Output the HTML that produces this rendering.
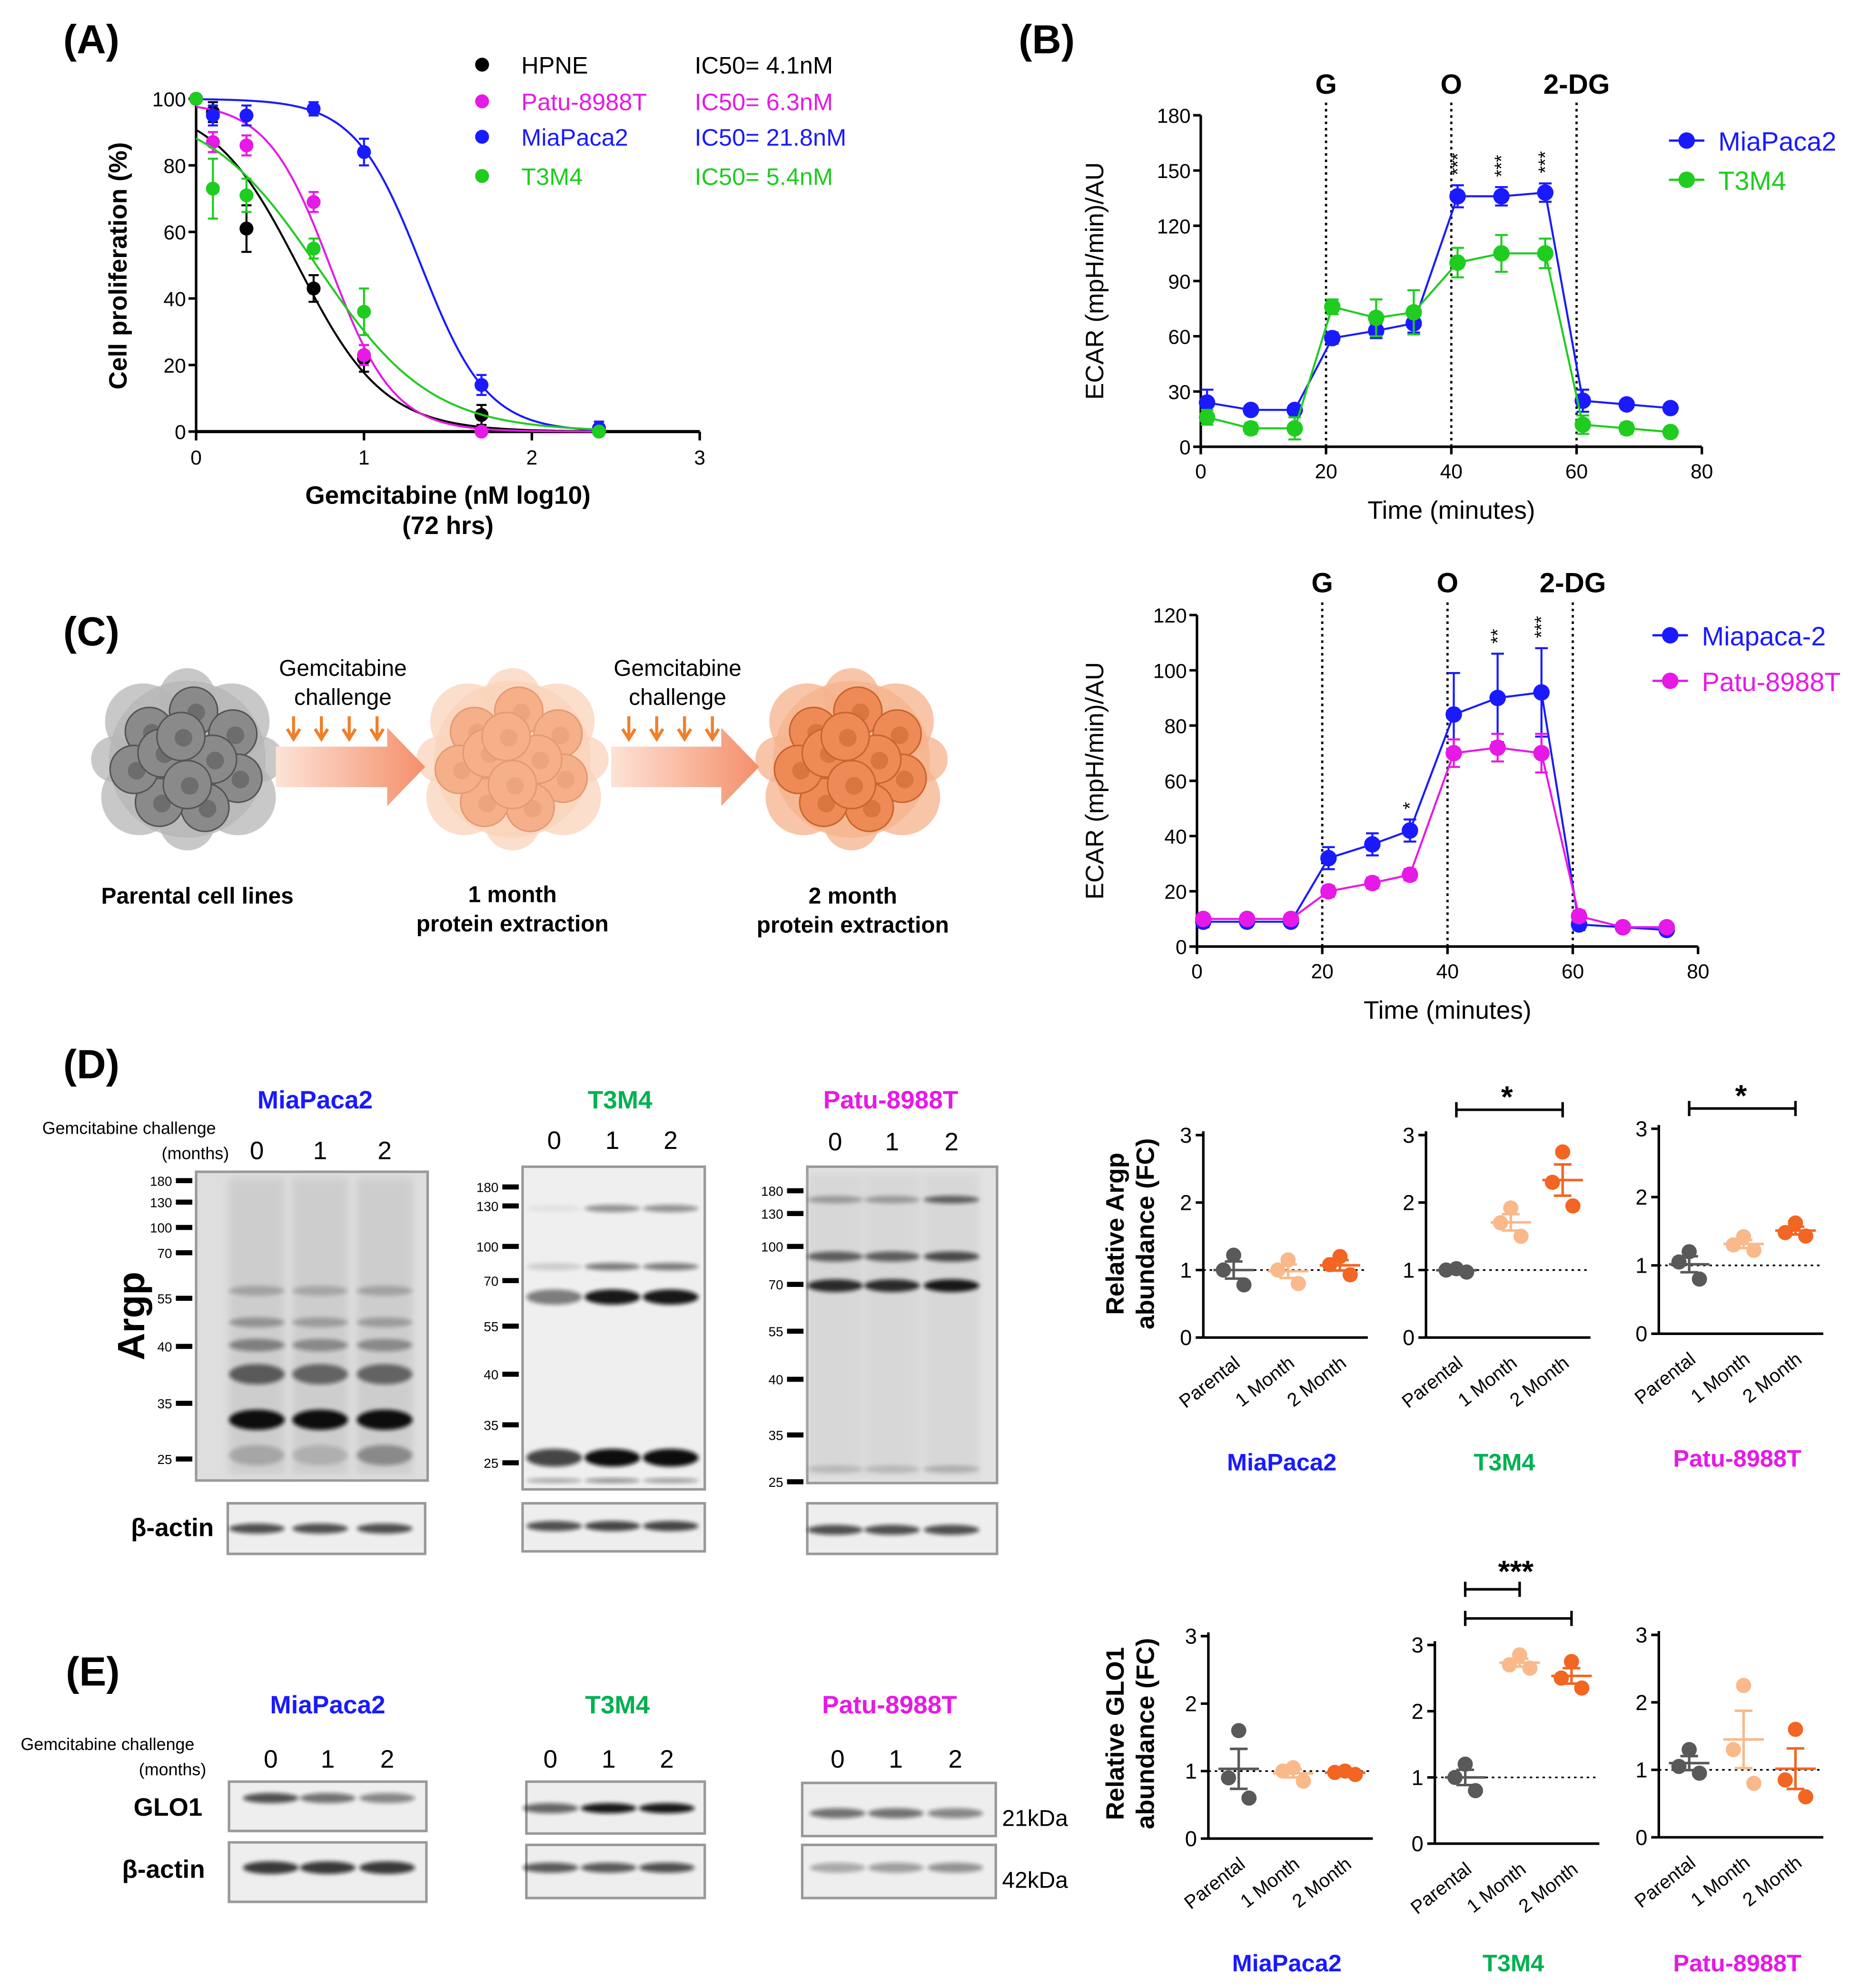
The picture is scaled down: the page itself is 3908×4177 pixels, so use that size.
<!DOCTYPE html>
<html><head><meta charset="utf-8">
<style>
html,body{margin:0;padding:0;background:#fff;}
svg{display:block;font-family:"Liberation Sans",Arial,sans-serif;}
</style></head>
<body>
<svg id="fig" width="3908" height="4177" viewBox="0 0 1470 1571" xmlns="http://www.w3.org/2000/svg">
<defs>
<filter id="blur1" x="-20%" y="-50%" width="140%" height="200%"><feGaussianBlur stdDeviation="1.6"/></filter>
<filter id="blur2" x="-20%" y="-50%" width="140%" height="200%"><feGaussianBlur stdDeviation="3"/></filter>
<linearGradient id="arrowGrad" x1="0" x2="1" y1="0" y2="0"><stop offset="0" stop-color="#fde3d6"/><stop offset="1" stop-color="#f48f6b"/></linearGradient>
</defs>
<g id="root"></g>
</svg>
<script>
// ---------------- DATA ----------------
// Panel A
const aDoses = [0, 0.1, 0.3, 0.7, 1.0, 1.7, 2.4];
const aNames = ["HPNE", "Patu-8988T", "MiaPaca2", "T3M4"];
const aIC50Text = ["IC50= 4.1nM", "IC50= 6.3nM", "IC50= 21.8nM", "IC50= 5.4nM"];
const aHPNE = [100, 96, 61, 43, 22, 5, 0];
const aPatu = [100, 87, 86, 69, 23, 0, 1];
const aMia = [100, 95, 95, 97, 84, 14, 1];
const aT3M4 = [100, 73, 71, 55, 36, null, 0];
const aErrHPNE = [1, 3, 7, 4, 4, 3, 1];
const aErrPatu = [1, 3, 3, 3, 3, 1, 2];
const aErrMia = [1, 3, 3, 2, 4, 3, 2];
const aErrT3M4 = [1, 9, 5, 3, 7, 0, 1];
const aLogIC50 = [0.61, 0.80, 1.34, 0.73];
const aTop = [99, 99, 100, 98];
const aHill = [1.7, 2.3, 2.2, 1.3];
const aXTicks = [0, 1, 2, 3];
const aYTicks = [0, 20, 40, 60, 80, 100];
// Panel B top
const bTimes = [1, 8, 15, 21, 28, 34, 41, 48, 55, 61, 68, 75];
const b1Mia = [24, 20, 20, 59, 63, 67, 136, 136, 138, 25, 23, 21];
const b1MiaErr = [7, 2, 2, 3, 4, 5, 6, 5, 5, 6, 2, 2];
const b1T3M4 = [16, 10, 10, 76, 70, 73, 100, 105, 105, 12, 10, 8];
const b1T3M4Err = [4, 3, 6, 4, 10, 12, 8, 10, 8, 5, 3, 2];
const b1YTicks = [0, 30, 60, 90, 120, 150, 180];
const b1Stars = ["***", "***", "***"];
const b1StarTimes = [41, 48, 55];
// Panel B bottom
const b2Mia = [9, 9, 9, 32, 37, 42, 84, 90, 92, 8, 7, 6];
const b2MiaErr = [2, 1, 1, 4, 4, 4, 15, 16, 16, 2, 1, 1];
const b2Patu = [10, 10, 10, 20, 23, 26, 70, 72, 70, 11, 7, 7];
const b2PatuErr = [1, 1, 1, 2, 2, 2, 5, 5, 7, 2, 1, 1];
const b2YTicks = [0, 20, 40, 60, 80, 100, 120];
const b2Stars = ["*", "**", "***"];
const b2StarTimes = [34, 48, 55];
const bXTicks = [0, 20, 40, 60, 80];
const bInjections = [20, 40, 60];
const bInjLabels = ["G", "O", "2-DG"];
// Panel D scatter (Argp)
const groups = ["Parental", "1 Month", "2 Month"];
const dMiaPar = [1.22, 0.78, 1.0];
const dMia1 = [1.15, 0.8, 1.0];
const dMia2 = [1.2, 0.93, 1.08];
const dT3Par = [1.0, 0.97, 1.02];
const dT31 = [1.92, 1.5, 1.7];
const dT32 = [2.75, 1.95, 2.3];
const dPatPar = [1.2, 0.8, 1.05];
const dPat1 = [1.42, 1.22, 1.3];
const dPat2 = [1.62, 1.43, 1.48];
// Panel E scatter (GLO1)
const eMiaPar = [1.6, 0.6, 0.9];
const eMia1 = [1.05, 0.85, 1.0];
const eMia2 = [1.0, 0.95, 0.98];
const eT3Par = [1.2, 0.8, 1.0];
const eT31 = [2.85, 2.65, 2.7];
const eT32 = [2.75, 2.35, 2.5];
const ePatPar = [1.3, 0.95, 1.05];
const ePat1 = [2.25, 1.3, 0.8];
const ePat2 = [1.6, 0.6, 0.85];
const scatYTicks = [0, 1, 2, 3];

// ---------------- HELPERS ----------------
const NS = "http://www.w3.org/2000/svg";
const root = document.getElementById("root");
function mk(tag, attrs, parent) {
  const e = document.createElementNS(NS, tag);
  for (const k in attrs) e.setAttribute(k, attrs[k]);
  (parent || root).appendChild(e);
  return e;
}
function txt(s, x, y, size, opts, parent) {
  const a = Object.assign({x: x, y: y, "font-size": size}, opts || {});
  const t = mk("text", a, parent);
  t.textContent = s;
  return t;
}
function grp(parent) { return mk("g", {}, parent); }

const BLUE = "#1a1aff", MAG = "#e619e6", GREEN = "#1fcc1f", BLACK = "#000";
const DARKG = "#00b050";
const C0 = "#595959", C1 = "#f9b98a", C2 = "#f26522";

// ---------------- PANEL LABELS ----------------
[["(A)", 50, 42], ["(B)", 805, 42], ["(C)", 50, 510], ["(D)", 50, 852], ["(E)", 52, 1332]].forEach(function (p) {
  const t = txt(p[0], p[1], p[2], 32, {"font-weight": "bold"});
  
  
});

// ---------------- PANEL A ----------------
(function () {
  const g = grp();
  
  
  const X0 = 155, X3 = 553, Y0 = 341, Y100 = 78;
  const sx = v => X0 + (X3 - X0) * v / 3;
  const sy = v => Y0 - (Y0 - Y100) * v / 100;
  const ax = grp(g);
  
  
  mk("line", {x1: X0, y1: Y0, x2: X3, y2: Y0, stroke: "#000", "stroke-width": 2.5}, ax);
  aXTicks.forEach(function (v) {
    mk("line", {x1: sx(v), y1: Y0, x2: sx(v), y2: Y0 + 7, stroke: "#000", "stroke-width": 2}, ax);
    const t = txt(v, sx(v), Y0 + 26, 16, {"text-anchor": "middle"}, ax);
    
    
  });
  const ay = grp(g);
  
  
  mk("line", {x1: X0, y1: Y0, x2: X0, y2: Y100, stroke: "#000", "stroke-width": 2}, ay);
  aYTicks.forEach(function (v) {
    mk("line", {x1: X0 - 6, y1: sy(v), x2: X0, y2: sy(v), stroke: "#000", "stroke-width": 2}, ay);
    const t = txt(v, X0 - 8, sy(v) + 6, 16, {"text-anchor": "end"}, ay);
    
    
  });
  const yt = txt("Cell proliferation (%)", 0, 0, 20, {"font-weight": "bold", "text-anchor": "middle", transform: "translate(100,210) rotate(-90)"}, g);
  
  
  const xt = txt("Gemcitabine (nM log10)", 354, 398, 20, {"font-weight": "bold", "text-anchor": "middle"}, g);
  
  
  const xt2 = txt("(72 hrs)", 354, 422, 20, {"font-weight": "bold", "text-anchor": "middle"}, g);
  
  

  const series = [aHPNE, aPatu, aMia, aT3M4];
  const errs = [aErrHPNE, aErrPatu, aErrMia, aErrT3M4];
  const cols = [BLACK, MAG, BLUE, GREEN];
  series.forEach(function (vals, i) {
    const s = grp(g);
    
    
    let d = "";
    for (let k = 0; k <= 120; k++) {
      const xv = k * 2.4 / 120;
      const yv = aTop[i] / (1 + Math.pow(10, (xv - aLogIC50[i]) * aHill[i]));
      d += (k ? "L" : "M") + sx(xv).toFixed(2) + "," + sy(yv).toFixed(2);
    }
    const c = mk("path", {d: d, fill: "none", stroke: cols[i], "stroke-width": 1.6}, s);
    
    
    vals.forEach(function (v, j) {
      if (v === null) return;
      const e = errs[i][j];
      mk("path", {d: "M" + sx(aDoses[j]) + "," + sy(v + e) + "V" + sy(v - e) + "M" + (sx(aDoses[j]) - 4) + "," + sy(v + e) + "h8M" + (sx(aDoses[j]) - 4) + "," + sy(v - e) + "h8", stroke: cols[i], "stroke-width": 1.6, fill: "none"}, s);
      const p = mk("circle", {cx: sx(aDoses[j]), cy: sy(v), r: 5.5, fill: cols[i]}, s);
      
      
    });
  });
  const lg = grp(g);
  
  
  [51, 80, 108, 139].forEach(function (y, i) {
    const e = grp(lg);
    
    
    mk("circle", {cx: 381, cy: y, r: 5.5, fill: cols[i]}, e);
    txt(aNames[i], 412, y + 7, 19, {fill: cols[i]}, e);
    txt(aIC50Text[i], 549, y + 7, 19, {fill: cols[i]}, e);
  });
})();

// ---------------- PANEL B ----------------
function drawECAR(cfg) {
  const g = grp();
  
  
  const sx = v => cfg.x0 + (cfg.x80 - cfg.x0) * v / 80;
  const sy = v => cfg.y0 - (cfg.y0 - cfg.ytop) * v / cfg.ymax;
  const ax = grp(g);
  
  
  mk("line", {x1: cfg.x0, y1: cfg.y0, x2: cfg.x80, y2: cfg.y0, stroke: "#000", "stroke-width": 2}, ax);
  bXTicks.forEach(function (v) {
    mk("line", {x1: sx(v), y1: cfg.y0, x2: sx(v), y2: cfg.y0 + 6, stroke: "#000", "stroke-width": 2}, ax);
    const t = txt(v, sx(v), cfg.y0 + 25, 16, {"text-anchor": "middle"}, ax);
    
    
  });
  const ay = grp(g);
  
  
  mk("line", {x1: cfg.x0, y1: cfg.y0, x2: cfg.x0, y2: cfg.ytop, stroke: "#000", "stroke-width": 2}, ay);
  cfg.yticks.forEach(function (v) {
    mk("line", {x1: cfg.x0 - 6, y1: sy(v), x2: cfg.x0, y2: sy(v), stroke: "#000", "stroke-width": 2}, ay);
    const t = txt(v, cfg.x0 - 8, sy(v) + 6, 16, {"text-anchor": "end"}, ay);
    
    
  });
  const yt = txt("ECAR (mpH/min)/AU", 0, 0, 20, {"text-anchor": "middle", transform: "translate(" + cfg.ylabX + "," + ((cfg.y0 + cfg.ytop) / 2) + ") rotate(-90)"}, g);
  
  
  const xt = txt("Time (minutes)", sx(40), cfg.y0 + 57, 20, {"text-anchor": "middle"}, g);
  
  
  bInjections.forEach(function (t, i) {
    const l = mk("line", {x1: sx(t), y1: cfg.y0, x2: sx(t), y2: cfg.ytop - 10, stroke: "#000", "stroke-width": 1.8, "stroke-dasharray": "2,3"}, g);
    
    
    const lb = txt(bInjLabels[i], sx(t), cfg.labY, 22, {"font-weight": "bold", "text-anchor": "middle"}, g);
    
    
  });
  cfg.series.forEach(function (s, i) {
    const sg = grp(g);
    
    
    let d = "";
    s.vals.forEach(function (v, j) { d += (j ? "L" : "M") + sx(bTimes[j]) + "," + sy(v); });
    mk("path", {d: d, fill: "none", stroke: s.color, "stroke-width": 1.6}, sg);
    s.vals.forEach(function (v, j) {
      const e = s.err[j], x = sx(bTimes[j]);
      mk("path", {d: "M" + x + "," + sy(v + e) + "V" + sy(v - e) + "M" + (x - 5) + "," + sy(v + e) + "h10M" + (x - 5) + "," + sy(v - e) + "h10", stroke: s.color, "stroke-width": 1.6, fill: "none"}, sg);
      const p = mk("circle", {cx: x, cy: sy(v), r: 6.5, fill: s.color}, sg);
      
      
    });
    const lg = grp(g);
    
    
    const ly = cfg.legY[i];
    mk("line", {x1: cfg.legX - 14, y1: ly, x2: cfg.legX + 14, y2: ly, stroke: s.color, "stroke-width": 1.8}, lg);
    mk("circle", {cx: cfg.legX, cy: ly, r: 6.5, fill: s.color}, lg);
    txt(s.label, cfg.legX + 25, ly + 8, 21, {fill: s.color}, lg);
  });
  cfg.stars.forEach(function (s, i) {
    const top = Math.max.apply(null, cfg.series.map(ss => ss.vals[bTimes.indexOf(cfg.starTimes[i])] + ss.err[bTimes.indexOf(cfg.starTimes[i])]));
    const x = sx(cfg.starTimes[i]), y = sy(top) - 8;
    const t = txt(s, 0, 0, 15, {"text-anchor": "start", transform: "translate(" + (x + 5) + "," + y + ") rotate(-90)"}, g);
    
    
  });
}
drawECAR({name: "ecar-chart-top", x0: 949, x80: 1345, y0: 353, ytop: 91, ymax: 180, yticks: b1YTicks, ylabX: 872, labY: 74,
  series: [{label: "MiaPaca2", vals: b1Mia, err: b1MiaErr, color: BLUE}, {label: "T3M4", vals: b1T3M4, err: b1T3M4Err, color: GREEN}],
  legX: 1333, legY: [111, 142], stars: b1Stars, starTimes: b1StarTimes});
drawECAR({name: "ecar-chart-bottom", x0: 946, x80: 1342, y0: 748, ytop: 486, ymax: 120, yticks: b2YTicks, ylabX: 872, labY: 468,
  series: [{label: "Miapaca-2", vals: b2Mia, err: b2MiaErr, color: BLUE}, {label: "Patu-8988T", vals: b2Patu, err: b2PatuErr, color: MAG}],
  legX: 1320, legY: [502, 538], stars: b2Stars, starTimes: b2StarTimes});

// ---------------- PANEL C ----------------
(function () {
  const g = grp();
  
  
  const offs = [[0, 0], [-30, -22], [5, -38], [36, -20], [40, 15], [14, 38], [-22, 34], [-42, 8], [-20, -5], [20, 0], [0, 20], [-5, -18]];
  function cluster(cx, cy, fillOut, fillIn, stroke, name) {
    const c = grp(g);
    
    
    [[0, 0, 62], [-35, -30, 30], [35, -30, 30], [40, 30, 30], [-38, 30, 30], [0, -50, 22], [0, 50, 22], [-58, 0, 18], [58, 0, 18]].forEach(function (o) {
      mk("circle", {cx: cx + o[0], cy: cy + o[1], r: o[2], fill: fillOut, opacity: 0.75}, c);
    });
    offs.forEach(function (o) {
      mk("circle", {cx: cx + o[0], cy: cy + o[1], r: 19, fill: fillIn, stroke: stroke, "stroke-width": 1.2}, c);
      mk("circle", {cx: cx + o[0] + 2, cy: cy + o[1] + 1, r: 7, fill: stroke, opacity: 0.55}, c);
    });
  }
  cluster(148, 600, "#b5b5b5", "#8a8a8a", "#555", "parental-cells");
  cluster(405, 600, "#fbd3bb", "#f5b08a", "#e49a72", "one-month-cells");
  cluster(673, 600, "#f6b28c", "#ee8a55", "#c9642d", "two-month-cells");
  [[218, 336, 232], [483, 600, 497]].forEach(function (a, i) {
    const ar = grp(g);
    
    
    mk("path", {d: "M" + a[0] + ",590 H" + (a[1] - 30) + " V575 L" + a[1] + ",606 L" + (a[1] - 30) + ",637 V622 H" + a[0] + " Z", fill: "url(#arrowGrad)"}, ar);
    for (let k = 0; k < 4; k++) {
      const x = a[2] + k * 22;
      mk("path", {d: "M" + x + ",566 V582 M" + (x - 5) + ",576 L" + x + ",584 L" + (x + 5) + ",576", stroke: "#f07f2a", "stroke-width": 2.4, fill: "none"}, ar);
    }
    txt("Gemcitabine", (a[0] + a[1]) / 2 - 6, 534, 18, {"text-anchor": "middle"}, ar);
    txt("challenge", (a[0] + a[1]) / 2 - 6, 557, 18, {"text-anchor": "middle"}, ar);
  });
  [["Parental cell lines", 156, 714], ["1 month", 405, 713], ["protein extraction", 405, 736], ["2 month", 674, 714], ["protein extraction", 674, 737]].forEach(function (l) {
    const t = txt(l[0], l[1], l[2], 18, {"font-weight": "bold", "text-anchor": "middle"}, g);
    
    
  });
})();

// ---------------- BLOTS ----------------
function blot(cfg) {
  const g = grp();
  
  
  const b = cfg.box;
  mk("rect", {x: b[0], y: b[1], width: b[2] - b[0], height: b[3] - b[1], fill: cfg.bg || "#ebebeb", stroke: "#999", "stroke-width": 2}, g);
  if (cfg.lanesmear) cfg.lanes.forEach(function (lx) {
    mk("rect", {x: lx - 22, y: b[1] + 5, width: 44, height: b[3] - b[1] - 10, fill: "#c8c8c8", opacity: cfg.lanesmear, filter: "url(#blur2)"}, g);
  });
  cfg.bands.forEach(function (bd) {
    cfg.lanes.forEach(function (lx, i) {
      const op = bd[2][i];
      if (!op) return;
      const band = mk("ellipse", {cx: lx, cy: bd[0], rx: cfg.bw || 22, ry: bd[1], fill: "#111", opacity: op, filter: "url(#blur1)"}, g);
      
      
    });
  });
  if (cfg.ladder) cfg.ladder.forEach(function (l) {
    mk("rect", {x: b[0] - 16, y: l[1] - 2, width: 13, height: 4, fill: "#000"}, g);
    txt(l[0], b[0] - 19, l[1] + 4, 10.5, {"text-anchor": "end"}, g);
  });
}
// D blots
const D_MIA_L = [203, 253, 304], D_T3_L = [438, 484, 530], D_PAT_L = [660, 705, 752];
blot({name: "argp-blot-miapaca2", box: [155, 926, 338, 1170], lanes: D_MIA_L, bg: "#dedede", lanesmear: 0.75,
  bands: [[1122, 8, [1, 1, 1]], [1086, 8, [0.6, 0.55, 0.55]], [1063, 5, [0.4, 0.35, 0.35]], [1045, 4, [0.3, 0.25, 0.25]], [1020, 4, [0.22, 0.2, 0.22]], [1150, 8, [0.2, 0.15, 0.35]]],
  ladder: [["180", 933], ["130", 950], ["100", 970], ["70", 990], ["55", 1026], ["40", 1064], ["35", 1109], ["25", 1153]]});
blot({name: "argp-blot-t3m4", box: [413, 922, 557, 1177], lanes: D_T3_L, bg: "#efefef",
  bands: [[1152, 7, [0.75, 1, 1]], [1025, 6, [0.5, 0.95, 0.95]], [1001, 3, [0.15, 0.5, 0.5]], [955, 3, [0.05, 0.4, 0.4]], [1170, 2, [0.3, 0.4, 0.35]]],
  ladder: [["180", 938], ["130", 953], ["100", 985], ["70", 1012], ["55", 1048], ["40", 1086], ["35", 1126], ["25", 1156]]});
blot({name: "argp-blot-patu", box: [638, 922, 788, 1172], lanes: D_PAT_L, bg: "#e2e2e2", lanesmear: 0.4,
  bands: [[1016, 5, [0.85, 0.85, 0.95]], [993, 4, [0.6, 0.6, 0.7]], [948, 3, [0.3, 0.3, 0.6]], [1161, 3, [0.15, 0.15, 0.2]]],
  ladder: [["180", 941], ["130", 959], ["100", 985], ["70", 1015], ["55", 1052], ["40", 1090], ["35", 1134], ["25", 1171]]});
blot({name: "actin-blot-miapaca2-d", box: [180, 1188, 336, 1228], lanes: D_MIA_L, bg: "#eeeeee", bands: [[1208, 4, [0.7, 0.7, 0.7]]]});
blot({name: "actin-blot-t3m4-d", box: [413, 1188, 557, 1226], lanes: D_T3_L, bg: "#eeeeee", bands: [[1206, 4, [0.7, 0.75, 0.75]]]});
blot({name: "actin-blot-patu-d", box: [638, 1188, 788, 1228], lanes: D_PAT_L, bg: "#eeeeee", bands: [[1209, 4, [0.7, 0.7, 0.7]]]});
// E blots
const E_MIA_L = [214, 259, 306], E_T3_L = [435, 481, 527], E_PAT_L = [662, 708, 755];
blot({name: "glo1-blot-miapaca2", box: [181, 1408, 337, 1447], lanes: E_MIA_L, bg: "#eeeeee", bands: [[1421, 4, [0.7, 0.55, 0.45]]]});
blot({name: "glo1-blot-t3m4", box: [416, 1408, 557, 1449], lanes: E_T3_L, bg: "#eeeeee", bands: [[1429, 4, [0.6, 0.95, 0.95]]]});
blot({name: "glo1-blot-patu", box: [634, 1409, 787, 1451], lanes: E_PAT_L, bg: "#eeeeee", bands: [[1433, 4, [0.55, 0.55, 0.45]]]});
blot({name: "actin-blot-miapaca2-e", box: [181, 1456, 337, 1503], lanes: E_MIA_L, bg: "#eeeeee", bands: [[1476, 5, [0.8, 0.8, 0.8]]]});
blot({name: "actin-blot-t3m4-e", box: [416, 1458, 557, 1500], lanes: E_T3_L, bg: "#eeeeee", bands: [[1476, 4, [0.65, 0.65, 0.7]]]});
blot({name: "actin-blot-patu-e", box: [634, 1458, 787, 1500], lanes: E_PAT_L, bg: "#eeeeee", bands: [[1476, 4, [0.3, 0.35, 0.4]]]});

// Blot labels
(function () {
  const g = grp();
  
  
  [["MiaPaca2", 249, 876, BLUE], ["T3M4", 490, 876, DARKG], ["Patu-8988T", 704, 876, MAG], ["MiaPaca2", 259, 1354, BLUE], ["T3M4", 488, 1354, DARKG], ["Patu-8988T", 703, 1354, MAG]].forEach(function (l) {
    const t = txt(l[0], l[1], l[2], 20, {"font-weight": "bold", "text-anchor": "middle", fill: l[3]}, g);
    
    
  });
  txt("Gemcitabine challenge", 102, 896, 13.5, {"text-anchor": "middle"}, g);
  txt("(months)", 181, 916, 13.5, {"text-anchor": "end"}, g);
  txt("Gemcitabine challenge", 85, 1383, 13.5, {"text-anchor": "middle"}, g);
  txt("(months)", 163, 1403, 13.5, {"text-anchor": "end"}, g);
  [[D_MIA_L, 916], [D_T3_L, 908], [D_PAT_L, 909], [E_MIA_L, 1397], [E_T3_L, 1397], [E_PAT_L, 1397]].forEach(function (s) {
    s[0].forEach(function (x, i) {
      const t = txt(String(i), x, s[1], 20, {"text-anchor": "middle"}, g);
      
      
    });
  });
  txt("Argp", 0, 0, 30, {"font-weight": "bold", "text-anchor": "middle", transform: "translate(114,1040) rotate(-90)"}, g);
  txt("β-actin", 169, 1214, 20, {"font-weight": "bold", "text-anchor": "end"}, g);
  txt("GLO1", 160, 1435, 20, {"font-weight": "bold", "text-anchor": "end"}, g);
  txt("β-actin", 162, 1484, 20, {"font-weight": "bold", "text-anchor": "end"}, g);
  txt("21kDa", 792, 1443, 18, {}, g);
  txt("42kDa", 792, 1492, 18, {}, g);
})();

// ---------------- SCATTER PANELS ----------------
function scatter(cfg) {
  const g = grp();
  
  
  const sy = v => cfg.y0 - (cfg.y0 - cfg.y3) * v / 3;
  const xs = [cfg.x + 24, cfg.x + 67, cfg.x + 108];
  const ay = grp(g);
  
  
  mk("line", {x1: cfg.x, y1: cfg.y0, x2: cfg.x, y2: cfg.y3 - 3, stroke: "#000", "stroke-width": 2}, ay);
  mk("line", {x1: cfg.x, y1: cfg.y0, x2: cfg.x + 130, y2: cfg.y0, stroke: "#000", "stroke-width": 2}, ay);
  scatYTicks.forEach(function (v) {
    mk("line", {x1: cfg.x - 6, y1: sy(v), x2: cfg.x, y2: sy(v), stroke: "#000", "stroke-width": 2}, ay);
    const t = txt(v, cfg.x - 9, sy(v) + 6, 17, {"text-anchor": "end"}, ay);
    
    
  });
  mk("line", {x1: cfg.x, y1: sy(1), x2: cfg.x + 130, y2: sy(1), stroke: "#000", "stroke-width": 1.3, "stroke-dasharray": "2,3"}, g);
  const cols = [C0, C1, C2];
  cfg.data.forEach(function (vals, i) {
    const sg = grp(g);
    
    
    const m = vals.reduce((a, b) => a + b, 0) / vals.length;
    const sd = Math.sqrt(vals.reduce((a, b) => a + (b - m) * (b - m), 0) / (vals.length - 1));
    const se = sd / Math.sqrt(vals.length);
    const x = xs[i];
    mk("path", {d: "M" + (x - 16) + "," + sy(m) + "h32M" + x + "," + sy(m + se) + "V" + sy(m - se) + "M" + (x - 7) + "," + sy(m + se) + "h14M" + (x - 7) + "," + sy(m - se) + "h14", stroke: cols[i], "stroke-width": 2, fill: "none"}, sg);
    const jit = [0, -9, 9];
    const order = vals.map((v, k) => k).sort((a, b) => vals[b] - vals[a]);
    vals.forEach(function (v, k) {
      const p = mk("circle", {cx: x + jit[order.indexOf(k)] * 0.9, cy: sy(v), r: 6, fill: cols[i]}, sg);
      
      
    });
    const t = txt(groups[i], 0, 0, 15, {"text-anchor": "end", transform: "translate(" + (x + 6) + "," + (cfg.y0 + 22) + ") rotate(-38)"}, g);
    
    
  });
  const st = txt(cfg.title, cfg.x + 62, cfg.titleY, 19, {"font-weight": "bold", "text-anchor": "middle", fill: cfg.color}, g);
  
  
  (cfg.brackets || []).forEach(function (br) {
    const b = mk("path", {d: "M" + xs[br[0]] + "," + (br[2] + 6) + "V" + (br[2] - 6) + "M" + xs[br[0]] + "," + br[2] + "H" + xs[br[1]] + "M" + xs[br[1]] + "," + (br[2] + 6) + "V" + (br[2] - 6), stroke: "#000", "stroke-width": 2, fill: "none"}, g);
    
    
  });
  if (cfg.star) {
    const s = txt(cfg.star[0], cfg.star[1], cfg.star[2], 24, {"text-anchor": "middle", "font-weight": "bold"}, g);
    
    
  }
}
scatter({name: "argp-scatter-miapaca2", x: 951, y0: 1057, y3: 897, data: [dMiaPar, dMia1, dMia2], title: "MiaPaca2", color: BLUE, titleY: 1162});
scatter({name: "argp-scatter-t3m4", x: 1127, y0: 1057, y3: 897, data: [dT3Par, dT31, dT32], title: "T3M4", color: DARKG, titleY: 1162, brackets: [[0, 2, 877]], star: ["*", 1191, 875]});
scatter({name: "argp-scatter-patu", x: 1311, y0: 1054, y3: 892, data: [dPatPar, dPat1, dPat2], title: "Patu-8988T", color: MAG, titleY: 1159, brackets: [[0, 2, 876]], star: ["*", 1376, 874]});
scatter({name: "glo1-scatter-miapaca2", x: 955, y0: 1453, y3: 1293, data: [eMiaPar, eMia1, eMia2], title: "MiaPaca2", color: BLUE, titleY: 1558});
scatter({name: "glo1-scatter-t3m4", x: 1134, y0: 1457, y3: 1300, data: [eT3Par, eT31, eT32], title: "T3M4", color: DARKG, titleY: 1558, brackets: [[0, 1, 1256], [0, 2, 1279]], star: ["***", 1198, 1250]});
scatter({name: "glo1-scatter-patu", x: 1311, y0: 1452, y3: 1292, data: [ePatPar, ePat1, ePat2], title: "Patu-8988T", color: MAG, titleY: 1558});
// Scatter y-axis titles
[["Relative Argp", "abundance (FC)", 975], ["Relative GLO1", "abundance (FC)", 1370]].forEach(function (l) {
  const t = txt(l[0], 0, 0, 20, {"font-weight": "bold", "text-anchor": "middle", transform: "translate(888," + l[2] + ") rotate(-90)"});
  
  
  const t2 = txt(l[1], 0, 0, 20, {"font-weight": "bold", "text-anchor": "middle", transform: "translate(912," + l[2] + ") rotate(-90)"});
  
  
});
</script>
</body></html>
